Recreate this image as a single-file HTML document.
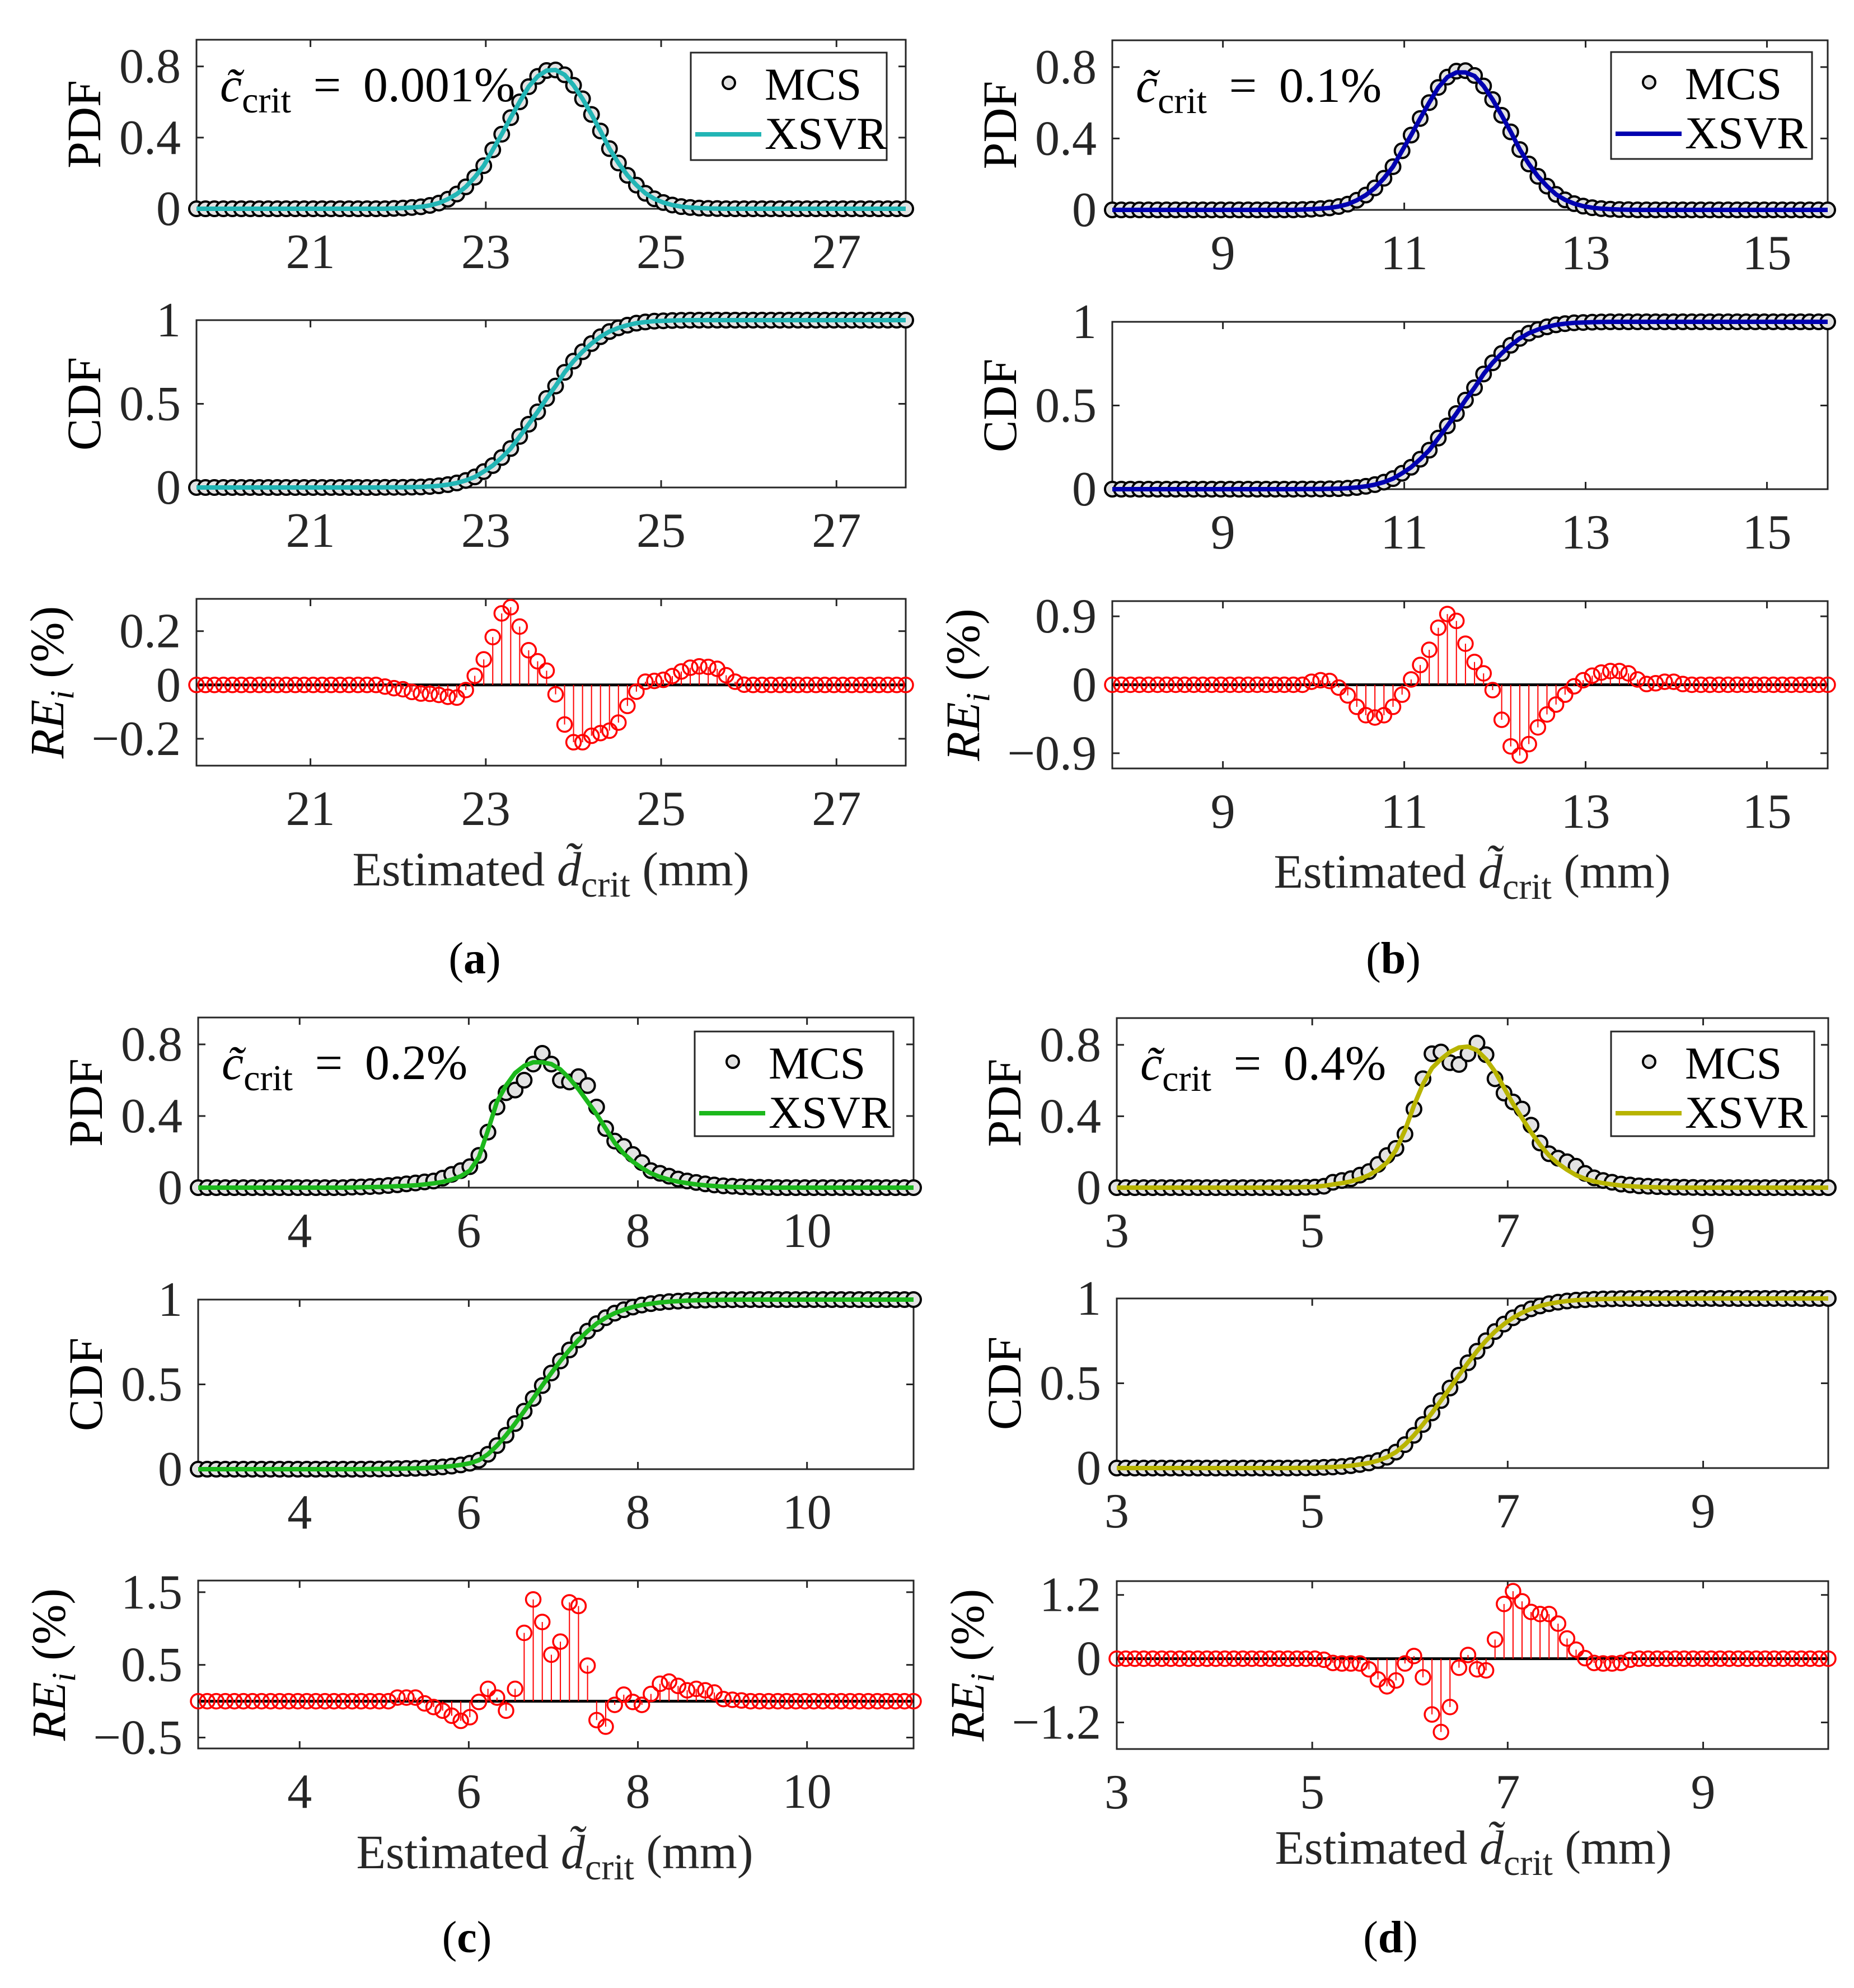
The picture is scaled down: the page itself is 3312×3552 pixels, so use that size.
<!DOCTYPE html>
<html>
<head>
<meta charset="utf-8">
<style>
  html,body{margin:0;padding:0;background:#fff;}
  svg{display:block;}
  text{font-family:"Liberation Serif","DejaVu Serif",serif;}
</style>
</head>
<body>
<svg id="fig" xmlns="http://www.w3.org/2000/svg" width="3312" height="3552" viewBox="0 0 3312 3552">
  <rect x="0" y="0" width="3312" height="3552" fill="#ffffff"/>
</svg>
<script>
// ---------------- DATA ----------------
const xRangeA = [19.70, 27.79];
const xRangeB = [7.78, 15.67];
const xRangeC = [2.80, 11.26];
const xRangeD = [3.00, 10.28];

const xTicksA = [21, 23, 25, 27];
const xTicksB = [9, 11, 13, 15];
const xTicksC = [4, 6, 8, 10];
const xTicksD = [3, 5, 7, 9];

const pdfTicks = [0, 0.4, 0.8];
const pdfTickLabels = ["0", "0.4", "0.8"];
const cdfTicks = [0, 0.5, 1];
const cdfTickLabels = ["0", "0.5", "1"];

const reLimA = [-0.30, 0.32];
const reLimB = [-1.10, 1.10];
const reLimC = [-0.65, 1.66];
const reLimD = [-1.70, 1.46];
const reTicksA = [-0.2, 0, 0.2];
const reTicksB = [-0.9, 0, 0.9];
const reTicksC = [-0.5, 0.5, 1.5];
const reTicksD = [-1.2, 0, 1.2];
const reTickLabelsA = ["\u22120.2", "0", "0.2"];
const reTickLabelsB = ["\u22120.9", "0", "0.9"];
const reTickLabelsC = ["\u22120.5", "0.5", "1.5"];
const reTickLabelsD = ["\u22121.2", "0", "1.2"];

const critLabels = ["0.001%", "0.1%", "0.2%", "0.4%"];

const pdfMcsA = [0,0,0,0,0,0,0,0,0,0,0,0,0,0,0,0,0,0,0,0,0,0,
  .002,.004,.007,
  .011,.019,.032,.054,.083,.123,.177,.242,.331,.419,.512,.601,.686,.744,.777,.780,.753,.694,.618,.530,.437,.338,.257,.188,.133,.087,.056,.035,.021,.012,.007,.004,.002,
  .001,
  0,0,0,0,0,0,0,0,0,0,0,0,0,0,0,0,0,0,0,0,0];
const pdfXsvrA = [0,0,0,0,0,0,0,0,0,0,0,0,0,0,0,0,0,0,0,0,0,0,
  .002,.004,.007,
  .011,.019,.032,.054,.083,.123,.177,.242,.331,.419,.512,.601,.686,.744,.777,.780,.753,.694,.618,.530,.437,.338,.257,.188,.133,.087,.056,.035,.021,.012,.007,.004,.002,
  .001,
  0,0,0,0,0,0,0,0,0,0,0,0,0,0,0,0,0,0,0,0,0];
const cdfA = [0,0,0,0,0,0,0,0,0,0,0,0,0,0,0,0,0,0,0,0,0,
  .001,.001,.001,
  .002,.003,.006,.010,.017,.027,.042,.063,.095,.131,.179,.233,.305,.378,.452,.532,.606,.688,.755,.811,.860,.901,.932,.954,.970,.982,.989,.994,.996,.998,
  .999,
  1,1,1,1,1,1,1,1,1,1,1,1,1,1,1,1,1,1,1,1,1,1,1,1,1];
const reA = [0,0,0,0,0,0,0,0,0,0,0,0,0,0,0,0,0,0,0,0,0,
  -0.006,-0.012,-0.016,-0.026,-0.032,-0.033,-0.037,-0.044,-0.047,-0.019,0.034,0.095,0.178,0.266,0.289,0.217,0.129,0.088,0.053,-0.035,-0.147,-0.213,-0.213,-0.189,-0.179,-0.170,-0.140,-0.078,-0.025,0.012,0.015,0.019,0.033,0.050,0.064,0.069,0.067,0.060,0.036,0.012,0.001,
  0,0,0,0,0,0,0,0,0,0,0,0,0,0,0,0,0,0];

const pdfMcsB = [0,0,0,0,0,0,0,0,0,0,0,0,0,0,0,0,0,0,0,0,0,
  .002,.004,.007,
  .011,.019,.032,.054,.083,.123,.177,.242,.331,.419,.512,.601,.686,.744,.777,.780,.753,.694,.618,.530,.437,.338,.257,.188,.133,.087,.056,.035,.021,.012,.007,.004,.002,
  .001,
  0,0,0,0,0,0,0,0,0,0,0,0,0,0,0,0,0,0,0,0,0,0];
const pdfXsvrB = [0,0,0,0,0,0,0,0,0,0,0,0,0,0,0,0,0,0,0,0,0,
  .002,.004,.007,
  .011,.019,.032,.054,.083,.123,.177,.242,.331,.419,.512,.601,.686,.744,.770,.770,.750,.694,.618,.530,.437,.338,.257,.188,.133,.087,.056,.035,.021,.012,.007,.004,.002,
  .001,
  0,0,0,0,0,0,0,0,0,0,0,0,0,0,0,0,0,0,0,0,0,0];
const cdfB = [0,0,0,0,0,0,0,0,0,0,0,0,0,0,0,0,0,0,0,0,0,
  .001,.001,.001,
  .002,.003,.006,.010,.017,.027,.042,.063,.095,.131,.179,.233,.305,.378,.452,.532,.606,.688,.755,.811,.860,.901,.932,.954,.970,.982,.989,.994,.996,.998,
  .999,
  1,1,1,1,1,1,1,1,1,1,1,1,1,1,1,1,1,1,1,1,1,1,1,1,1];
const reB = [0,0,0,0,0,0,0,0,0,0,0,0,0,0,0,0,0,0,0,0,0,0,
  0.04,0.06,0.05,-0.037,-0.14,-0.29,-0.40,-0.43,-0.40,-0.29,-0.13,0.07,0.26,0.46,0.75,0.93,0.84,0.54,0.30,0.15,-0.07,-0.46,-0.81,-0.93,-0.78,-0.56,-0.39,-0.26,-0.13,-0.02,0.06,0.12,0.16,0.18,0.18,0.15,0.07,0.01,0.02,0.04,0.04,0.01,
  0,0,0,0,0,0,0,0,0,0,0,0,0,0,0,0];

const pdfMcsC = [0,0,0,0,0,0,0,0,0,0,0,0,0,0,0,0,0,
  .003,.004,.006,.008,.012,.016,.021,.026,.032,.037,.053,.074,.095,.117,.18,.31,.45,.53,.545,.60,.69,.75,.69,.60,.59,.62,.57,.45,.33,.26,.23,.185,.14,.095,.08,.064,.048,.037,.029,.021,.015,.01,.008,.005,.003,.002,.001,
  0,0,0,0,0,0,0,0,0,0,0,0,0,0,0,0];
const pdfXsvrC = [0,0,0,0,0,0,0,0,0,0,0,0,0,0,0,0,0,
  .001,.002,.003,.004,.006,.008,.010,.013,.018,.024,.032,.045,.064,.095,.17,.32,.48,.57,.64,.68,.70,.70,.69,.66,.61,.55,.48,.41,.33,.25,.19,.145,.11,.08,.06,.045,.033,.025,.018,.013,.009,.006,.004,.003,.002,.001,
  0,0,0,0,0,0,0,0,0,0,0,0,0,0,0,0,0];
const cdfC = [0,0,0,0,0,0,0,0,0,0,0,0,0,0,0,0,0,0,0,
  .001,.001,.002,.003,.004,.005,.007,.010,.013,.018,.025,.035,.053,.088,.139,.200,.269,.342,.417,.493,.567,.638,.703,.762,.814,.858,.893,.920,.940,.956,.968,.976,.983,.988,.991,.994,.996,.997,.998,.999,.999,
  1,1,1,1,1,1,1,1,1,1,1,1,1,1,1,1,1,1,1,1];
const reC = [0,0,0,0,0,0,0,0,0,0,0,0,0,0,0,0,0,0,0,0,0,0,
  0.05,0.05,0.05,-0.03,-0.08,-0.13,-0.20,-0.27,-0.22,-0.01,0.17,0.05,-0.13,0.17,0.94,1.40,1.09,0.64,0.82,1.36,1.31,0.49,-0.26,-0.35,-0.05,0.09,-0.01,-0.05,0.10,0.24,0.27,0.21,0.15,0.17,0.15,0.12,0.03,0.02,0.01,
  0,0,0,0,0,0,0,0,0,0,0,0,0,0,0,0,0,0,0];

const pdfMcsD = [0,0,0,0,0,0,0,0,0,0,0,0,0,0,0,0,0,0,0,0,0,
  .002,.003,.008,.03,.04,.05,.07,.09,.13,.18,.22,.30,.44,.61,.75,.76,.70,.69,.75,.81,.745,.61,.53,.48,.44,.35,.25,.19,.165,.145,.12,.08,.055,.04,.03,.02,.015,.01,.008,.006,.004,.003,.002,.001,
  0,0,0,0,0,0,0,0,0,0,0,0,0,0,0];
const pdfXsvrD = [0,0,0,0,0,0,0,0,0,0,0,0,0,0,0,0,0,0,0,
  .001,.002,.003,.005,.01,.018,.025,.035,.05,.07,.10,.14,.21,.32,.46,.58,.67,.72,.76,.785,.79,.77,.72,.65,.56,.47,.39,.31,.24,.18,.135,.10,.07,.05,.035,.025,.018,.012,.008,.005,.003,.002,.001,
  0,0,0,0,0,0,0,0,0,0,0,0,0,0,0,0,0,0];
const cdfD = [0,0,0,0,0,0,0,0,0,0,0,0,0,0,0,0,0,0,0,0,
  .001,.001,.002,.004,.006,.009,.014,.021,.030,.044,.064,.094,.138,.193,.257,.325,.398,.472,.548,.621,.689,.751,.805,.849,.886,.916,.939,.956,.969,.978,.985,.990,.993,.995,.997,.998,.999,.999,
  1,1,1,1,1,1,1,1,1,1,1,1,1,1,1,1,1,1,1,1,1,1];
const reD = [0,0,0,0,0,0,0,0,0,0,0,0,0,0,0,0,0,0,0,0,0,0,0,
  -0.02,-0.08,-0.09,-0.09,-0.09,-0.20,-0.39,-0.52,-0.41,-0.09,0.05,-0.35,-1.05,-1.38,-0.91,-0.17,0.07,-0.20,-0.22,0.36,1.03,1.27,1.08,0.88,0.84,0.84,0.66,0.38,0.17,0.01,-0.08,-0.09,-0.09,-0.08,-0.02,
  0,0,0,0,0,0,0,0,0,0,0,0,0,0,0,0,0,0,0,0,0,0];

// ---------------- DRAWING ----------------
const NS = 'http://www.w3.org/2000/svg';
const svg = document.getElementById('fig');
const AX = '#262626';
function mk(tag, parent) { const e = document.createElementNS(NS, tag); parent.appendChild(e); return e; }
function set(e, o) { for (const k in o) e.setAttribute(k, o[k]); return e; }

function linScale(d0, d1, r0, r1) { return v => r0 + (v - d0) / (d1 - d0) * (r1 - r0); }

function drawFrame(g, L, R, T, B, sx, sy, xticks, yticks, ylabels, key) {
  const box = set(mk('rect', g), {x: L, y: T, width: R - L, height: B - T, fill: 'none', stroke: AX, 'stroke-width': 3});
  
  
  xticks.forEach(t => {
    const x = sx(t);
    const t1 = set(mk('line', g), {x1: x, x2: x, y1: B, y2: B - 13, stroke: AX, 'stroke-width': 3});
    
    
    const t2 = set(mk('line', g), {x1: x, x2: x, y1: T, y2: T + 13, stroke: AX, 'stroke-width': 3});
    
    
    const lb = set(mk('text', g), {x: x, y: B + 106, 'text-anchor': 'middle', 'font-size': 88, fill: AX});
    lb.textContent = String(t);
    
    
  });
  yticks.forEach((t, k) => {
    const y = sy(t);
    const t1 = set(mk('line', g), {x1: L, x2: L + 13, y1: y, y2: y, stroke: AX, 'stroke-width': 3});
    
    
    const t2 = set(mk('line', g), {x1: R, x2: R - 13, y1: y, y2: y, stroke: AX, 'stroke-width': 3});
    
    
    const lb = set(mk('text', g), {x: L - 28, y: y + 29, 'text-anchor': 'end', 'font-size': 88, fill: AX});
    lb.textContent = ylabels[k];
    
    
  });
}

function yLabel(g, x, y, html, key) {
  const t = set(mk('text', g), {x: 0, y: 0, 'text-anchor': 'middle', 'font-size': 86, fill: '#000',
    transform: 'translate(' + x + ',' + y + ') rotate(-90)'});
  t.innerHTML = html;
  
  
}

function linePath(xs, ys) { return xs.map((x, i) => (i ? 'L' : 'M') + x.toFixed(1) + ',' + ys[i].toFixed(1)).join(' '); }

function drawPanel(p) {
  const g = mk('g', svg);
  
  
  const n = p.pdfMcs.length;
  const xs = [];
  for (let i = 0; i < n; i++) xs.push(p.xr[0] + i * (p.xr[1] - p.xr[0]) / (n - 1));
  const sx = linScale(p.xr[0], p.xr[1], p.L, p.R);
  const px = xs.map(sx);

  // ---- PDF ----
  const syP = linScale(0, 0.95, p.pdf[1], p.pdf[0]);
  drawFrame(g, p.L, p.R, p.pdf[0], p.pdf[1], sx, syP, p.xticks, pdfTicks, pdfTickLabels, p.id + '-pdf');
  p.pdfMcs.forEach((v, i) => {
    const c = set(mk('circle', g), {cx: px[i], cy: syP(v), r: 13, fill: '#e3e3e3', stroke: '#000', 'stroke-width': 4});
    
    
  });
  const lp = set(mk('path', g), {d: linePath(px, p.pdfX.map(syP)), fill: 'none', stroke: p.color, 'stroke-width': 8, 'stroke-linejoin': 'round'});
  
  
  yLabel(g, p.L - 172, (p.pdf[0] + p.pdf[1]) / 2, 'PDF', p.id + '-pdf-y-title');

  // annotation
  const an = set(mk('text', g), {x: p.L + 42, y: p.pdf[0] + 110, 'font-size': 88, fill: '#000'});
  an.innerHTML = '<tspan font-style="italic">c\u0303</tspan><tspan font-size="66" dy="20">crit</tspan><tspan dy="-20"> \u2009=\u2009 ' + p.crit + '</tspan>';
  
  

  // legend
  const lg = p.leg;
  const lr = set(mk('rect', g), {x: lg[0], y: lg[1], width: lg[2] - lg[0], height: lg[3] - lg[1], fill: '#fff', stroke: AX, 'stroke-width': 3});
  
  
  const lc = set(mk('circle', g), {cx: lg[0] + 68, cy: lg[1] + 54, r: 11, fill: '#e3e3e3', stroke: '#000', 'stroke-width': 4});
  
  
  const lt1 = set(mk('text', g), {x: lg[0] + 132, y: lg[1] + 84, 'font-size': 82, fill: '#000'});
  lt1.textContent = 'MCS';
  
  
  const ll = set(mk('line', g), {x1: lg[0] + 8, x2: lg[0] + 126, y1: lg[1] + 146, y2: lg[1] + 146, stroke: p.color, 'stroke-width': 8});
  
  
  const lt2 = set(mk('text', g), {x: lg[0] + 132, y: lg[1] + 172, 'font-size': 82, fill: '#000'});
  lt2.textContent = 'XSVR';
  
  

  // ---- CDF ----
  const syC = linScale(0, 1, p.cdf[1], p.cdf[0]);
  drawFrame(g, p.L, p.R, p.cdf[0], p.cdf[1], sx, syC, p.xticks, cdfTicks, cdfTickLabels, p.id + '-cdf');
  p.cdfV.forEach((v, i) => {
    const c = set(mk('circle', g), {cx: px[i], cy: syC(v), r: 13, fill: '#e3e3e3', stroke: '#000', 'stroke-width': 4});
    
    
  });
  const lc2 = set(mk('path', g), {d: linePath(px, p.cdfV.map(syC)), fill: 'none', stroke: p.color, 'stroke-width': 8, 'stroke-linejoin': 'round'});
  
  
  yLabel(g, p.L - 172, (p.cdf[0] + p.cdf[1]) / 2, 'CDF', p.id + '-cdf-y-title');

  // ---- RE ----
  const syR = linScale(p.reLim[0], p.reLim[1], p.re[1], p.re[0]);
  drawFrame(g, p.L, p.R, p.re[0], p.re[1], sx, syR, p.xticks, p.reTicks, p.reLabels, p.id + '-re');
  const zl = set(mk('line', g), {x1: p.L, x2: p.R, y1: syR(0), y2: syR(0), stroke: '#000', 'stroke-width': 5});
  
  
  p.reV.forEach((v, i) => {
    if (v !== 0) {
      const s = set(mk('line', g), {x1: px[i], x2: px[i], y1: syR(0), y2: syR(v), stroke: '#ff0000', 'stroke-width': 2});
      
      
    }
    const c = set(mk('circle', g), {cx: px[i], cy: syR(v), r: 13, fill: 'none', stroke: '#ff0000', 'stroke-width': 3.5});
    
    
  });
  yLabel(g, p.L - 238, (p.re[0] + p.re[1]) / 2,
    '<tspan font-style="italic">RE</tspan><tspan font-style="italic" font-size="60" dy="18">i</tspan><tspan dy="-18"> (%)</tspan>',
    p.id + '-re-y-title');

  // x title
  const xt = set(mk('text', g), {x: p.xlab[0], y: p.xlab[1], 'text-anchor': 'middle', 'font-size': 86, fill: '#262626'});
  xt.innerHTML = 'Estimated <tspan font-style="italic">d\u0303</tspan><tspan font-size="66" dy="20">crit</tspan><tspan dy="-20"> (mm)</tspan>';
  
  

  const sl = set(mk('text', g), {x: p.sub[0], y: p.sub[1], 'text-anchor': 'middle', 'font-size': 80, fill: '#000'});
  sl.innerHTML = '(<tspan font-weight="bold">' + p.id + '</tspan>)';
  
  
}

drawPanel({id: 'a', L: 351, R: 1618, pdf: [71, 373], cdf: [572, 871], re: [1070, 1368],
  xr: xRangeA, xticks: xTicksA, reLim: reLimA, reTicks: reTicksA, reLabels: reTickLabelsA,
  color: '#22b5b5', pdfMcs: pdfMcsA, pdfX: pdfXsvrA, cdfV: cdfA, reV: reA, crit: critLabels[0],
  leg: [1234, 94, 1584, 286], xlab: [984, 1582], sub: [848, 1739]});
drawPanel({id: 'b', L: 1987, R: 3265, pdf: [72, 375], cdf: [575, 874], re: [1074, 1373],
  xr: xRangeB, xticks: xTicksB, reLim: reLimB, reTicks: reTicksB, reLabels: reTickLabelsB,
  color: '#0000b0', pdfMcs: pdfMcsB, pdfX: pdfXsvrB, cdfV: cdfB, reV: reB, crit: critLabels[1],
  leg: [2878, 93, 3237, 284], xlab: [2630, 1586], sub: [2489, 1739]});
drawPanel({id: 'c', L: 354, R: 1632, pdf: [1818, 2122], cdf: [2322, 2625], re: [2824, 3124],
  xr: xRangeC, xticks: xTicksC, reLim: reLimC, reTicks: reTicksC, reLabels: reTickLabelsC,
  color: '#1cb81c', pdfMcs: pdfMcsC, pdfX: pdfXsvrC, cdfV: cdfC, reV: reC, crit: critLabels[2],
  leg: [1241, 1843, 1596, 2030], xlab: [991, 3338], sub: [834, 3488]});
drawPanel({id: 'd', L: 1995, R: 3266, pdf: [1819, 2122], cdf: [2320, 2623], re: [2825, 3125],
  xr: xRangeD, xticks: xTicksD, reLim: reLimD, reTicks: reTicksD, reLabels: reTickLabelsD,
  color: '#b8b400', pdfMcs: pdfMcsD, pdfX: pdfXsvrD, cdfV: cdfD, reV: reD, crit: critLabels[3],
  leg: [2878, 1843, 3241, 2030], xlab: [2632, 3330], sub: [2484, 3488]});
</script>
</body>
</html>
